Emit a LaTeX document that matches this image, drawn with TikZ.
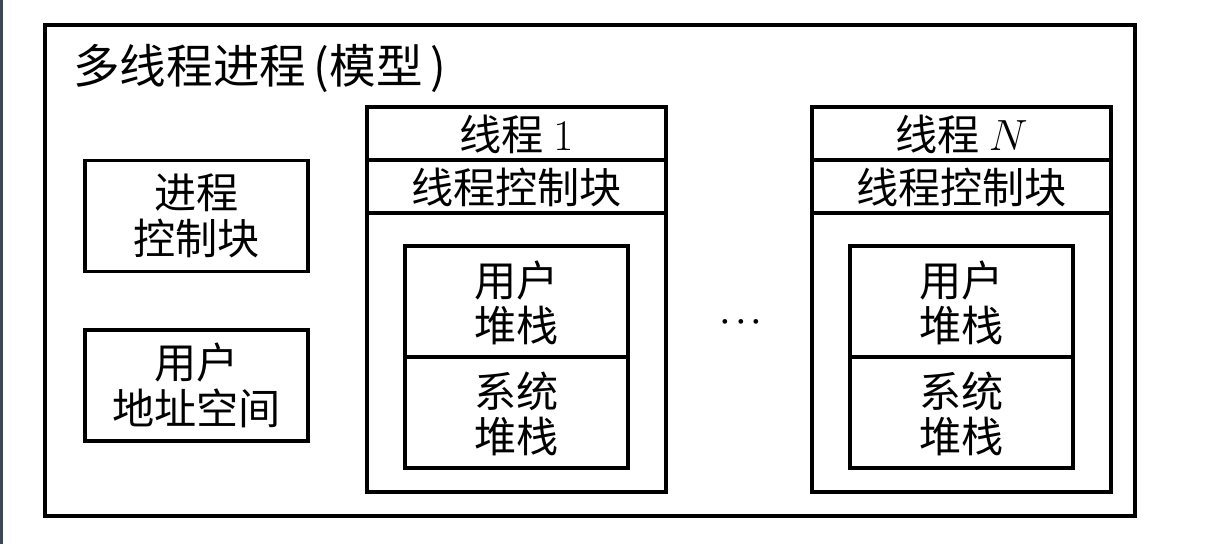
\documentclass[tikz,border=0pt]{standalone}
\usepackage{fontspec}
\usepackage{amsmath}
\newfontfamily\cjk{Noto Sans CJK SC}
\usetikzlibrary{positioning}
\definecolor{sidebar}{HTML}{3B4757}

\begin{document}
\begin{tikzpicture}[x=0.02cm, y=-0.02cm,
		frame/.style={line width=1.9pt, line join=miter},
		lbl/.style={font=\cjk\fontsize{24}{26}\selectfont, align=center, inner sep=0pt},
		box/.style={lbl, draw, frame, minimum width=4.46cm, minimum height=2.22cm}]
	\useasboundingbox (0,0) rectangle (1226,544);
	\fill[sidebar] (0,0) rectangle (3,544);
	
	% process frame
	\draw[frame] (45,25) rectangle (1135,516);
	\node[lbl, anchor=west, font=\cjk\fontsize{26.5}{28}\selectfont] (title) at (73,68) {多线程进程\,(模型\,)};
	
	\node[box] (pcb) at (196.5,216) {进程\\控制块};
	\node[box] (uas) at (196.5,385.5) {用户\\地址空间};
	
	% threads
	\foreach \x/\n/\m in {367/a/1, 812/b/N} {
		\draw[frame] (\x,107) rectangle ++(299,385);
		\draw[frame] (\x,160) -- ++(299,0);
		\draw[frame] (\x,213) -- ++(299,0);
		\draw[frame] (\x+38,246) rectangle ++(223,222);
		\draw[frame] (\x+38,357) -- ++(223,0);
		\node[lbl] (head\n) at (\x+149.5,134) {线程 $\m$};
		\node[lbl] (tcb\n) at (\x+149.5,187) {线程控制块};
		\node[lbl] (ustack\n) at (\x+149.5,303) {用户\\堆栈};
		\node[lbl] (kstack\n) at (\x+149.5,414) {系统\\堆栈};
	}
	
	\node[lbl, font=\fontsize{17}{20}\selectfont\boldmath] (dots) at (744,322) {$\cdots$};
\end{tikzpicture}
\end{document}
